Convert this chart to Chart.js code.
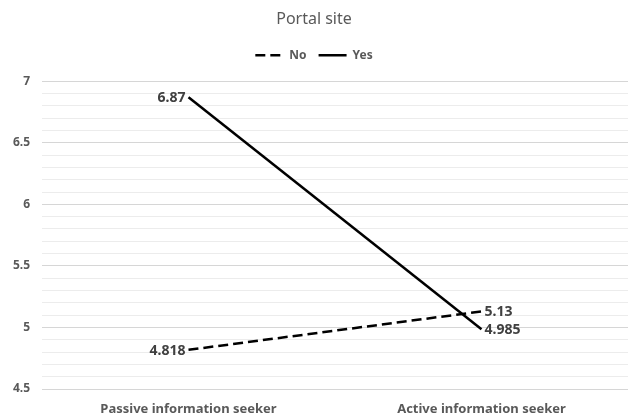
<!DOCTYPE html>
<html>
<head>
<meta charset="utf-8">
<script src="https://cdn.jsdelivr.net/npm/chart.js@4/dist/chart.umd.min.js"></script>
<style>
  html, body { margin: 0; padding: 0; background: #fff; }
  #wrap { width: 628px; height: 418px; }
</style>
</head>
<body>
<div id="wrap"><canvas id="c" width="628" height="418"></canvas></div>
<script>
// Categories and series values
const categories = ['Passive information seeker', 'Active information seeker'];
const seriesNo = [4.818, 5.13];
const seriesYes = [6.87, 4.985];
const seriesNames = ['No', 'Yes'];
const yMin = 4.5, yMax = 7;

const FONT = '"Noto Sans", "Open Sans", sans-serif';
const TEXT = '#595959';

// Value labels drawn next to each point
const valueLabels = {
  id: 'valueLabels',
  afterDatasetsDraw(chart) {
    const ctx = chart.ctx;
    ctx.save();
    ctx.font = 'bold 14px ' + FONT;
    ctx.fillStyle = '#404040';
    ctx.textBaseline = 'middle';
    chart.data.datasets.forEach((ds, di) => {
      const meta = chart.getDatasetMeta(di);
      meta.data.forEach((pt, i) => {
        const v = ds.data[i];
        if (i === 0) {
          ctx.textAlign = 'right';
          ctx.fillText(String(v), pt.x - 3, pt.y + 1);
        } else {
          ctx.textAlign = 'left';
          ctx.fillText(String(v), pt.x + 3, pt.y + 1);
        }
      });
    });
    ctx.restore();
  }
};

// Extra space between the legend and the plot
const legendGap = {
  id: 'legendGap',
  beforeInit(chart) {
    const origFit = chart.legend.fit;
    chart.legend.fit = function () {
      origFit.bind(chart.legend)();
      this.height += 10;
    };
  }
};

new Chart(document.getElementById('c'), {
  type: 'line',
  data: {
    labels: categories,
    datasets: [
      {
        label: seriesNames[0],
        data: seriesNo,
        borderColor: '#000',
        backgroundColor: '#000',
        borderWidth: 2.5,
        borderDash: [10, 5],
        pointRadius: 0,
        tension: 0
      },
      {
        label: seriesNames[1],
        data: seriesYes,
        borderColor: '#000',
        backgroundColor: '#000',
        borderWidth: 2.5,
        pointRadius: 0,
        tension: 0
      }
    ]
  },
  options: {
    responsive: false,
    animation: false,
    layout: { padding: { top: 7, right: 0, left: 0, bottom: 0 } },
    plugins: {
      title: {
        display: true,
        text: 'Portal site',
        color: TEXT,
        font: { family: FONT, size: 16, weight: 'normal' },
        padding: { top: 3, bottom: 8 }
      },
      legend: {
        display: true,
        position: 'top',
        labels: {
          usePointStyle: true,
          pointStyle: 'line',
          pointStyleWidth: 28,
          boxHeight: 12,
          color: TEXT,
          padding: 12,
          font: { family: FONT, size: 12, weight: 'bold' },
          generateLabels(chart) {
            const items = Chart.defaults.plugins.legend.labels.generateLabels(chart);
            return items.map(it => {
              const ds = chart.data.datasets[it.datasetIndex];
              it.lineDash = ds.borderDash || [];
              it.lineWidth = 2.5;
              it.strokeStyle = '#000';
              it.pointStyle = 'line';
              return it;
            });
          }
        }
      },
      tooltip: { enabled: false }
    },
    scales: {
      x: {
        offset: true,
        afterFit(scale) { scale.height = 29; },
        grid: { display: false, drawTicks: false },
        border: { display: false },
        ticks: {
          color: TEXT,
          padding: 12,
          maxRotation: 0,
          font: { family: FONT, size: 13, weight: 'bold' }
        }
      },
      y: {
        min: yMin,
        max: yMax,
        afterFit(scale) { scale.width = 42; },
        border: { display: false },
        grid: {
          drawTicks: false,
          lineWidth: 1,
          color(ctx) {
            const t = Math.round(ctx.tick.value * 10);
            return t % 5 === 0 ? '#d6d6d6' : '#ececec';
          }
        },
        ticks: {
          stepSize: 0.1,
          autoSkip: false,
          padding: 12,
          color: TEXT,
          font: { family: FONT, size: 12, weight: 'bold' },
          callback(v) {
            const t = Math.round(v * 10);
            return t % 5 === 0 ? String(t / 10) : '';
          }
        }
      }
    }
  },
  plugins: [valueLabels, legendGap]
});
</script>
</body>
</html>
